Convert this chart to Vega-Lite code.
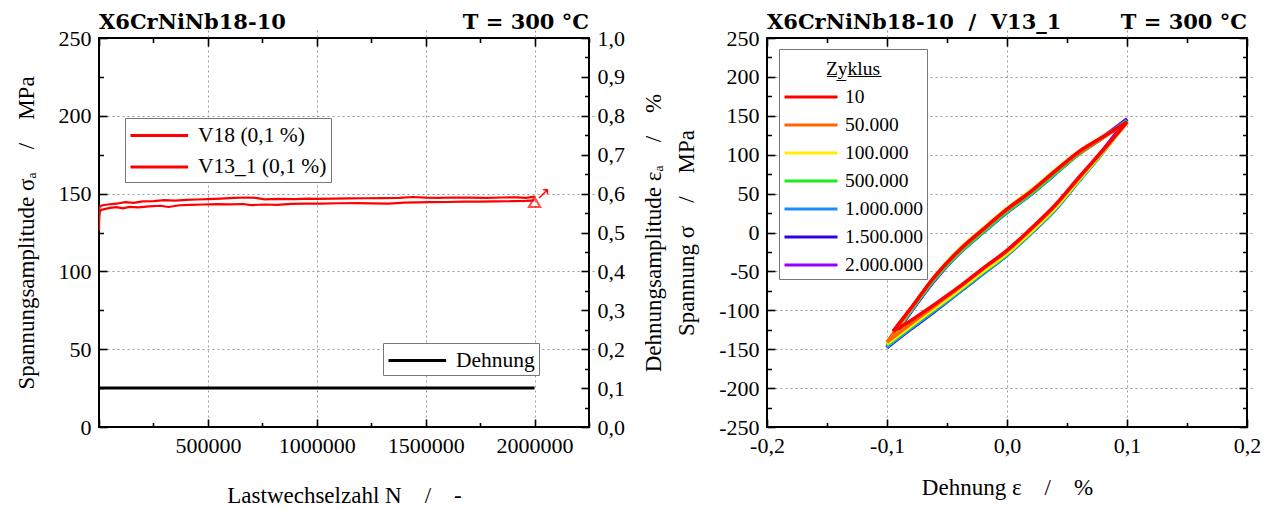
{
  "$schema": "https://vega.github.io/schema/vega-lite/v6.json",
  "background": "white",
  "padding": {"left": 14, "top": 11, "right": 0, "bottom": 0},
  "spacing": 7,
  "config": {
    "font": "Liberation Serif",
    "view": {"stroke": "black", "strokeWidth": 2},
    "axis": {
      "domain": false,
      "ticks": true,
      "offset": -8,
      "labelFont": "Liberation Serif",
      "labelFontSize": 22,
      "labelColor": "black",
      "labelFlush": false,
      "labelOverlap": false,
      "labelPadding": 8,
      "titleFont": "Liberation Serif",
      "titleFontSize": 23,
      "titleFontWeight": "normal",
      "titleColor": "black",
      "tickColor": "black",
      "tickWidth": 1.6,
      "tickSize": 8,
      "gridColor": "#999999",
      "gridDash": [2, 3],
      "gridWidth": 1
    },
    "legend": {
      "labelFont": "Liberation Serif",
      "labelColor": "black",
      "titleFont": "Liberation Serif",
      "titleColor": "black",
      "strokeColor": "#777777",
      "fillColor": "white",
      "symbolStrokeWidth": 3
    }
  },
  "resolve": {"scale": {"color": "independent", "stroke": "independent"}},
  "datasets": {
    "amp": [
      {"probe": "V18 (0,1 %)", "N": 0, "s": 139},
      {"probe": "V18 (0,1 %)", "N": 3000, "s": 141.5},
      {"probe": "V18 (0,1 %)", "N": 15000, "s": 142.5},
      {"probe": "V18 (0,1 %)", "N": 40000, "s": 143},
      {"probe": "V18 (0,1 %)", "N": 80000, "s": 143.5},
      {"probe": "V18 (0,1 %)", "N": 120000, "s": 144.5},
      {"probe": "V18 (0,1 %)", "N": 160000, "s": 144},
      {"probe": "V18 (0,1 %)", "N": 200000, "s": 145},
      {"probe": "V18 (0,1 %)", "N": 250000, "s": 145.2},
      {"probe": "V18 (0,1 %)", "N": 300000, "s": 145.8},
      {"probe": "V18 (0,1 %)", "N": 350000, "s": 145.5},
      {"probe": "V18 (0,1 %)", "N": 400000, "s": 146},
      {"probe": "V18 (0,1 %)", "N": 450000, "s": 146.2},
      {"probe": "V18 (0,1 %)", "N": 500000, "s": 146.5},
      {"probe": "V18 (0,1 %)", "N": 560000, "s": 146.8},
      {"probe": "V18 (0,1 %)", "N": 620000, "s": 147.2},
      {"probe": "V18 (0,1 %)", "N": 680000, "s": 147.5},
      {"probe": "V18 (0,1 %)", "N": 720000, "s": 147.2},
      {"probe": "V18 (0,1 %)", "N": 760000, "s": 146.3},
      {"probe": "V18 (0,1 %)", "N": 820000, "s": 146.6},
      {"probe": "V18 (0,1 %)", "N": 900000, "s": 146.5},
      {"probe": "V18 (0,1 %)", "N": 960000, "s": 146.8},
      {"probe": "V18 (0,1 %)", "N": 1000000, "s": 146.6},
      {"probe": "V18 (0,1 %)", "N": 1080000, "s": 146.8},
      {"probe": "V18 (0,1 %)", "N": 1150000, "s": 146.9},
      {"probe": "V18 (0,1 %)", "N": 1220000, "s": 147},
      {"probe": "V18 (0,1 %)", "N": 1300000, "s": 147.1},
      {"probe": "V18 (0,1 %)", "N": 1380000, "s": 147.3},
      {"probe": "V18 (0,1 %)", "N": 1440000, "s": 147.8},
      {"probe": "V18 (0,1 %)", "N": 1500000, "s": 147.4},
      {"probe": "V18 (0,1 %)", "N": 1560000, "s": 147.2},
      {"probe": "V18 (0,1 %)", "N": 1620000, "s": 147.5},
      {"probe": "V18 (0,1 %)", "N": 1700000, "s": 147.4},
      {"probe": "V18 (0,1 %)", "N": 1780000, "s": 147.2},
      {"probe": "V18 (0,1 %)", "N": 1850000, "s": 147.5},
      {"probe": "V18 (0,1 %)", "N": 1920000, "s": 147.6},
      {"probe": "V18 (0,1 %)", "N": 1960000, "s": 147.3},
      {"probe": "V18 (0,1 %)", "N": 2000000, "s": 148},
      {"probe": "V13_1 (0,1 %)", "N": 0, "s": 126},
      {"probe": "V13_1 (0,1 %)", "N": 1000, "s": 134},
      {"probe": "V13_1 (0,1 %)", "N": 4000, "s": 138.5},
      {"probe": "V13_1 (0,1 %)", "N": 10000, "s": 139.5},
      {"probe": "V13_1 (0,1 %)", "N": 25000, "s": 140},
      {"probe": "V13_1 (0,1 %)", "N": 50000, "s": 140.8},
      {"probe": "V13_1 (0,1 %)", "N": 80000, "s": 141.3},
      {"probe": "V13_1 (0,1 %)", "N": 110000, "s": 140.5},
      {"probe": "V13_1 (0,1 %)", "N": 140000, "s": 141.5},
      {"probe": "V13_1 (0,1 %)", "N": 180000, "s": 141.2},
      {"probe": "V13_1 (0,1 %)", "N": 230000, "s": 141.8},
      {"probe": "V13_1 (0,1 %)", "N": 280000, "s": 142.2},
      {"probe": "V13_1 (0,1 %)", "N": 320000, "s": 141.4},
      {"probe": "V13_1 (0,1 %)", "N": 370000, "s": 142.5},
      {"probe": "V13_1 (0,1 %)", "N": 420000, "s": 142.8},
      {"probe": "V13_1 (0,1 %)", "N": 480000, "s": 143},
      {"probe": "V13_1 (0,1 %)", "N": 540000, "s": 143.2},
      {"probe": "V13_1 (0,1 %)", "N": 600000, "s": 143.1},
      {"probe": "V13_1 (0,1 %)", "N": 660000, "s": 143.3},
      {"probe": "V13_1 (0,1 %)", "N": 700000, "s": 142.6},
      {"probe": "V13_1 (0,1 %)", "N": 760000, "s": 143},
      {"probe": "V13_1 (0,1 %)", "N": 820000, "s": 142.8},
      {"probe": "V13_1 (0,1 %)", "N": 880000, "s": 143.4},
      {"probe": "V13_1 (0,1 %)", "N": 950000, "s": 143.6},
      {"probe": "V13_1 (0,1 %)", "N": 1020000, "s": 143.5},
      {"probe": "V13_1 (0,1 %)", "N": 1100000, "s": 143.8},
      {"probe": "V13_1 (0,1 %)", "N": 1180000, "s": 143.9},
      {"probe": "V13_1 (0,1 %)", "N": 1250000, "s": 143.7},
      {"probe": "V13_1 (0,1 %)", "N": 1330000, "s": 143.6},
      {"probe": "V13_1 (0,1 %)", "N": 1400000, "s": 144.2},
      {"probe": "V13_1 (0,1 %)", "N": 1460000, "s": 144.4},
      {"probe": "V13_1 (0,1 %)", "N": 1520000, "s": 144.5},
      {"probe": "V13_1 (0,1 %)", "N": 1600000, "s": 144.6},
      {"probe": "V13_1 (0,1 %)", "N": 1680000, "s": 144.9},
      {"probe": "V13_1 (0,1 %)", "N": 1750000, "s": 144.8},
      {"probe": "V13_1 (0,1 %)", "N": 1820000, "s": 145},
      {"probe": "V13_1 (0,1 %)", "N": 1900000, "s": 145.1},
      {"probe": "V13_1 (0,1 %)", "N": 1960000, "s": 145.3},
      {"probe": "V13_1 (0,1 %)", "N": 2000000, "s": 145.6}
    ],
    "strain": [
      {"lbl": "Dehnung", "N": 0, "e": 0.1},
      {"lbl": "Dehnung", "N": 2000000, "e": 0.1}
    ],
    "marker": [
      {"N": 2000000, "s": 144.5}
    ],
    "arrow": [
      {"N": 2040000, "s": 149.5, "sym": "↗"}
    ],
    "loops": [
      {"z": "2.000.000", "b": "u", "i": 0, "e": 0.1, "s": 146},
      {"z": "2.000.000", "b": "u", "i": 1, "e": 0.08, "s": 123},
      {"z": "2.000.000", "b": "u", "i": 2, "e": 0.06, "s": 102},
      {"z": "2.000.000", "b": "u", "i": 3, "e": 0.04, "s": 76},
      {"z": "2.000.000", "b": "u", "i": 4, "e": 0.02, "s": 50},
      {"z": "2.000.000", "b": "u", "i": 5, "e": 0, "s": 27},
      {"z": "2.000.000", "b": "u", "i": 6, "e": -0.02, "s": 1},
      {"z": "2.000.000", "b": "u", "i": 7, "e": -0.04, "s": -26},
      {"z": "2.000.000", "b": "u", "i": 8, "e": -0.06, "s": -60},
      {"z": "2.000.000", "b": "u", "i": 9, "e": -0.08, "s": -101},
      {"z": "2.000.000", "b": "u", "i": 10, "e": -0.1, "s": -147},
      {"z": "2.000.000", "b": "l", "i": 0, "e": -0.1, "s": -147},
      {"z": "2.000.000", "b": "l", "i": 1, "e": -0.08, "s": -123},
      {"z": "2.000.000", "b": "l", "i": 2, "e": -0.06, "s": -100},
      {"z": "2.000.000", "b": "l", "i": 3, "e": -0.04, "s": -76},
      {"z": "2.000.000", "b": "l", "i": 4, "e": -0.02, "s": -52},
      {"z": "2.000.000", "b": "l", "i": 5, "e": 0, "s": -28},
      {"z": "2.000.000", "b": "l", "i": 6, "e": 0.02, "s": 0},
      {"z": "2.000.000", "b": "l", "i": 7, "e": 0.04, "s": 30},
      {"z": "2.000.000", "b": "l", "i": 8, "e": 0.06, "s": 68},
      {"z": "2.000.000", "b": "l", "i": 9, "e": 0.08, "s": 106},
      {"z": "2.000.000", "b": "l", "i": 10, "e": 0.1, "s": 146},
      {"z": "1.500.000", "b": "u", "i": 0, "e": 0.1, "s": 145},
      {"z": "1.500.000", "b": "u", "i": 1, "e": 0.08, "s": 122},
      {"z": "1.500.000", "b": "u", "i": 2, "e": 0.06, "s": 101},
      {"z": "1.500.000", "b": "u", "i": 3, "e": 0.04, "s": 75},
      {"z": "1.500.000", "b": "u", "i": 4, "e": 0.02, "s": 49},
      {"z": "1.500.000", "b": "u", "i": 5, "e": 0, "s": 26},
      {"z": "1.500.000", "b": "u", "i": 6, "e": -0.02, "s": 0},
      {"z": "1.500.000", "b": "u", "i": 7, "e": -0.04, "s": -27},
      {"z": "1.500.000", "b": "u", "i": 8, "e": -0.06, "s": -61},
      {"z": "1.500.000", "b": "u", "i": 9, "e": -0.08, "s": -102},
      {"z": "1.500.000", "b": "u", "i": 10, "e": -0.1, "s": -148},
      {"z": "1.500.000", "b": "l", "i": 0, "e": -0.1, "s": -148},
      {"z": "1.500.000", "b": "l", "i": 1, "e": -0.08, "s": -124},
      {"z": "1.500.000", "b": "l", "i": 2, "e": -0.06, "s": -101},
      {"z": "1.500.000", "b": "l", "i": 3, "e": -0.04, "s": -77},
      {"z": "1.500.000", "b": "l", "i": 4, "e": -0.02, "s": -53},
      {"z": "1.500.000", "b": "l", "i": 5, "e": 0, "s": -29},
      {"z": "1.500.000", "b": "l", "i": 6, "e": 0.02, "s": -1},
      {"z": "1.500.000", "b": "l", "i": 7, "e": 0.04, "s": 29},
      {"z": "1.500.000", "b": "l", "i": 8, "e": 0.06, "s": 67},
      {"z": "1.500.000", "b": "l", "i": 9, "e": 0.08, "s": 104},
      {"z": "1.500.000", "b": "l", "i": 10, "e": 0.1, "s": 145},
      {"z": "1.000.000", "b": "u", "i": 0, "e": 0.1, "s": 144},
      {"z": "1.000.000", "b": "u", "i": 1, "e": 0.08, "s": 122},
      {"z": "1.000.000", "b": "u", "i": 2, "e": 0.06, "s": 101},
      {"z": "1.000.000", "b": "u", "i": 3, "e": 0.04, "s": 75},
      {"z": "1.000.000", "b": "u", "i": 4, "e": 0.02, "s": 49},
      {"z": "1.000.000", "b": "u", "i": 5, "e": 0, "s": 26},
      {"z": "1.000.000", "b": "u", "i": 6, "e": -0.02, "s": 0},
      {"z": "1.000.000", "b": "u", "i": 7, "e": -0.04, "s": -27},
      {"z": "1.000.000", "b": "u", "i": 8, "e": -0.06, "s": -60},
      {"z": "1.000.000", "b": "u", "i": 9, "e": -0.08, "s": -101},
      {"z": "1.000.000", "b": "u", "i": 10, "e": -0.1, "s": -147},
      {"z": "1.000.000", "b": "l", "i": 0, "e": -0.1, "s": -147},
      {"z": "1.000.000", "b": "l", "i": 1, "e": -0.08, "s": -123},
      {"z": "1.000.000", "b": "l", "i": 2, "e": -0.06, "s": -100},
      {"z": "1.000.000", "b": "l", "i": 3, "e": -0.04, "s": -77},
      {"z": "1.000.000", "b": "l", "i": 4, "e": -0.02, "s": -53},
      {"z": "1.000.000", "b": "l", "i": 5, "e": 0, "s": -29},
      {"z": "1.000.000", "b": "l", "i": 6, "e": 0.02, "s": -1},
      {"z": "1.000.000", "b": "l", "i": 7, "e": 0.04, "s": 29},
      {"z": "1.000.000", "b": "l", "i": 8, "e": 0.06, "s": 66},
      {"z": "1.000.000", "b": "l", "i": 9, "e": 0.08, "s": 103},
      {"z": "1.000.000", "b": "l", "i": 10, "e": 0.1, "s": 144},
      {"z": "500.000", "b": "u", "i": 0, "e": 0.1, "s": 143},
      {"z": "500.000", "b": "u", "i": 1, "e": 0.08, "s": 122},
      {"z": "500.000", "b": "u", "i": 2, "e": 0.06, "s": 101},
      {"z": "500.000", "b": "u", "i": 3, "e": 0.04, "s": 76},
      {"z": "500.000", "b": "u", "i": 4, "e": 0.02, "s": 50},
      {"z": "500.000", "b": "u", "i": 5, "e": 0, "s": 27},
      {"z": "500.000", "b": "u", "i": 6, "e": -0.02, "s": 1},
      {"z": "500.000", "b": "u", "i": 7, "e": -0.04, "s": -26},
      {"z": "500.000", "b": "u", "i": 8, "e": -0.06, "s": -59},
      {"z": "500.000", "b": "u", "i": 9, "e": -0.08, "s": -100},
      {"z": "500.000", "b": "u", "i": 10, "e": -0.1, "s": -145},
      {"z": "500.000", "b": "l", "i": 0, "e": -0.1, "s": -145},
      {"z": "500.000", "b": "l", "i": 1, "e": -0.08, "s": -121},
      {"z": "500.000", "b": "l", "i": 2, "e": -0.06, "s": -98},
      {"z": "500.000", "b": "l", "i": 3, "e": -0.04, "s": -75},
      {"z": "500.000", "b": "l", "i": 4, "e": -0.02, "s": -51},
      {"z": "500.000", "b": "l", "i": 5, "e": 0, "s": -28},
      {"z": "500.000", "b": "l", "i": 6, "e": 0.02, "s": 0},
      {"z": "500.000", "b": "l", "i": 7, "e": 0.04, "s": 30},
      {"z": "500.000", "b": "l", "i": 8, "e": 0.06, "s": 67},
      {"z": "500.000", "b": "l", "i": 9, "e": 0.08, "s": 103},
      {"z": "500.000", "b": "l", "i": 10, "e": 0.1, "s": 143},
      {"z": "100.000", "b": "u", "i": 0, "e": 0.1, "s": 141},
      {"z": "100.000", "b": "u", "i": 1, "e": 0.08, "s": 123},
      {"z": "100.000", "b": "u", "i": 2, "e": 0.06, "s": 104},
      {"z": "100.000", "b": "u", "i": 3, "e": 0.04, "s": 80},
      {"z": "100.000", "b": "u", "i": 4, "e": 0.02, "s": 54},
      {"z": "100.000", "b": "u", "i": 5, "e": 0, "s": 31},
      {"z": "100.000", "b": "u", "i": 6, "e": -0.02, "s": 5},
      {"z": "100.000", "b": "u", "i": 7, "e": -0.04, "s": -22},
      {"z": "100.000", "b": "u", "i": 8, "e": -0.06, "s": -56},
      {"z": "100.000", "b": "u", "i": 9, "e": -0.08, "s": -98},
      {"z": "100.000", "b": "u", "i": 10, "e": -0.1, "s": -143},
      {"z": "100.000", "b": "l", "i": 0, "e": -0.1, "s": -143},
      {"z": "100.000", "b": "l", "i": 1, "e": -0.08, "s": -120},
      {"z": "100.000", "b": "l", "i": 2, "e": -0.06, "s": -97},
      {"z": "100.000", "b": "l", "i": 3, "e": -0.04, "s": -74},
      {"z": "100.000", "b": "l", "i": 4, "e": -0.02, "s": -50},
      {"z": "100.000", "b": "l", "i": 5, "e": 0, "s": -27},
      {"z": "100.000", "b": "l", "i": 6, "e": 0.02, "s": 1},
      {"z": "100.000", "b": "l", "i": 7, "e": 0.04, "s": 31},
      {"z": "100.000", "b": "l", "i": 8, "e": 0.06, "s": 68},
      {"z": "100.000", "b": "l", "i": 9, "e": 0.08, "s": 104},
      {"z": "100.000", "b": "l", "i": 10, "e": 0.1, "s": 141},
      {"z": "50.000", "b": "u", "i": 0, "e": 0.1, "s": 142},
      {"z": "50.000", "b": "u", "i": 1, "e": 0.08, "s": 122},
      {"z": "50.000", "b": "u", "i": 2, "e": 0.06, "s": 102},
      {"z": "50.000", "b": "u", "i": 3, "e": 0.04, "s": 78},
      {"z": "50.000", "b": "u", "i": 4, "e": 0.02, "s": 52},
      {"z": "50.000", "b": "u", "i": 5, "e": 0, "s": 29},
      {"z": "50.000", "b": "u", "i": 6, "e": -0.02, "s": 3},
      {"z": "50.000", "b": "u", "i": 7, "e": -0.04, "s": -24},
      {"z": "50.000", "b": "u", "i": 8, "e": -0.06, "s": -57},
      {"z": "50.000", "b": "u", "i": 9, "e": -0.08, "s": -98},
      {"z": "50.000", "b": "u", "i": 10, "e": -0.1, "s": -141},
      {"z": "50.000", "b": "l", "i": 0, "e": -0.1, "s": -141},
      {"z": "50.000", "b": "l", "i": 1, "e": -0.08, "s": -117},
      {"z": "50.000", "b": "l", "i": 2, "e": -0.06, "s": -94},
      {"z": "50.000", "b": "l", "i": 3, "e": -0.04, "s": -71},
      {"z": "50.000", "b": "l", "i": 4, "e": -0.02, "s": -47},
      {"z": "50.000", "b": "l", "i": 5, "e": 0, "s": -24},
      {"z": "50.000", "b": "l", "i": 6, "e": 0.02, "s": 4},
      {"z": "50.000", "b": "l", "i": 7, "e": 0.04, "s": 34},
      {"z": "50.000", "b": "l", "i": 8, "e": 0.06, "s": 70},
      {"z": "50.000", "b": "l", "i": 9, "e": 0.08, "s": 105},
      {"z": "50.000", "b": "l", "i": 10, "e": 0.1, "s": 142},
      {"z": "10", "b": "u", "i": 0, "e": 0.1, "s": 142},
      {"z": "10", "b": "u", "i": 1, "e": 0.08, "s": 123},
      {"z": "10", "b": "u", "i": 2, "e": 0.06, "s": 104},
      {"z": "10", "b": "u", "i": 3, "e": 0.04, "s": 79},
      {"z": "10", "b": "u", "i": 4, "e": 0.02, "s": 53},
      {"z": "10", "b": "u", "i": 5, "e": 0, "s": 30},
      {"z": "10", "b": "u", "i": 6, "e": -0.02, "s": 4},
      {"z": "10", "b": "u", "i": 7, "e": -0.04, "s": -23},
      {"z": "10", "b": "u", "i": 8, "e": -0.06, "s": -56},
      {"z": "10", "b": "u", "i": 9, "e": -0.08, "s": -97},
      {"z": "10", "b": "u", "i": 10, "e": -0.095, "s": -127},
      {"z": "10", "b": "l", "i": 0, "e": -0.095, "s": -127},
      {"z": "10", "b": "l", "i": 1, "e": -0.08, "s": -113},
      {"z": "10", "b": "l", "i": 2, "e": -0.06, "s": -92},
      {"z": "10", "b": "l", "i": 3, "e": -0.04, "s": -70},
      {"z": "10", "b": "l", "i": 4, "e": -0.02, "s": -46},
      {"z": "10", "b": "l", "i": 5, "e": 0, "s": -23},
      {"z": "10", "b": "l", "i": 6, "e": 0.02, "s": 5},
      {"z": "10", "b": "l", "i": 7, "e": 0.04, "s": 35},
      {"z": "10", "b": "l", "i": 8, "e": 0.06, "s": 71},
      {"z": "10", "b": "l", "i": 9, "e": 0.08, "s": 106},
      {"z": "10", "b": "l", "i": 10, "e": 0.1, "s": 142}
    ]
  },
  "hconcat": [
    {
      "width": 490,
      "height": 389,
      "resolve": {"scale": {"y": "independent"}, "axis": {"x": "independent", "y": "independent"}},
      "layer": [
        {
          "data": {"name": "amp"},
          "mark": {"type": "line", "strokeWidth": 2.2, "clip": true},
          "encoding": {
            "x": {
              "field": "N", "type": "quantitative",
              "scale": {"domain": [0, 2250000], "nice": false, "zero": false},
              "axis": {
                "orient": "bottom",
                "title": "Lastwechselzahl N\u00a0\u00a0\u00a0\u00a0/\u00a0\u00a0\u00a0\u00a0-",
                "titlePadding": 28,
                "values": [0, 250000, 500000, 750000, 1000000, 1250000, 1500000, 1750000, 2000000, 2250000],
                "labelExpr": "datum.value > 0 && datum.value % 500000 === 0 ? format(datum.value, 'd') : ''",
                "grid": true,
                "gridOpacity": {"condition": {"test": "datum.value > 0 && datum.value % 500000 === 0", "value": 1}, "value": 0},
                "tickDash": {"condition": {"test": "datum.value % 500000 !== 0", "value": [0, 3.5, 4.5, 30]}, "value": [30, 0]}
              }
            },
            "y": {
              "field": "s", "type": "quantitative",
              "scale": {"domain": [0, 250], "nice": false, "zero": false},
              "axis": {
                "orient": "left",
                "title": "Spannungsamplitude σₐ\u00a0\u00a0\u00a0\u00a0/\u00a0\u00a0\u00a0\u00a0MPa",
                "titlePadding": 20,
                "values": [0, 25, 50, 75, 100, 125, 150, 175, 200, 225, 250],
                "labelExpr": "datum.value % 50 === 0 ? format(datum.value, 'd') : ''",
                "grid": true,
                "gridOpacity": {"condition": {"test": "datum.value > 0 && datum.value < 250 && datum.value % 50 === 0", "value": 1}, "value": 0},
                "tickDash": {"condition": {"test": "datum.value % 50 !== 0", "value": [0, 3.5, 4.5, 30]}, "value": [30, 0]}
              }
            },
            "color": {
              "field": "probe", "type": "nominal",
              "scale": {"domain": ["V18 (0,1 %)", "V13_1 (0,1 %)"], "range": ["#ff0000", "#ff0000"]},
              "legend": {
                "orient": "none", "legendX": 26, "legendY": 80,
                "title": null,
                "symbolType": "M-1,0H3.8", "symbolSize": 576,
                "labelFontSize": 21.5, "labelOffset": 42,
                "padding": 4, "rowPadding": 7.5
              }
            }
          }
        },
        {
          "data": {"name": "strain"},
          "mark": {"type": "line", "strokeWidth": 3},
          "encoding": {
            "x": {
              "field": "N", "type": "quantitative",
              "scale": {"domain": [0, 2250000], "nice": false, "zero": false},
              "axis": {
                "orient": "top", "title": null, "labels": false, "grid": false,
                "values": [0, 250000, 500000, 750000, 1000000, 1250000, 1500000, 1750000, 2000000, 2250000],
                "tickDash": {"condition": {"test": "datum.value % 500000 !== 0", "value": [0, 3.5, 4.5, 30]}, "value": [30, 0]}
              }
            },
            "y": {
              "field": "e", "type": "quantitative",
              "scale": {"domain": [0, 1], "nice": false, "zero": false},
              "axis": {
                "orient": "right",
                "title": "Dehnungsamplitude εₐ\u00a0\u00a0\u00a0\u00a0/\u00a0\u00a0\u00a0\u00a0%",
                "titleAngle": 270,
                "titleBaseline": "top",
                "titlePadding": 18,
                "grid": false,
                "values": [0, 0.05, 0.1, 0.15, 0.2, 0.25, 0.3, 0.35, 0.4, 0.45, 0.5, 0.55, 0.6, 0.65, 0.7, 0.75, 0.8, 0.85, 0.9, 0.95, 1],
                "labelExpr": "round(datum.value * 100) % 10 === 0 ? replace(format(datum.value, '.1f'), '.', ',') : ''",
                "tickDash": {"condition": {"test": "round(datum.value * 100) % 10 !== 0", "value": [0, 3.5, 4.5, 30]}, "value": [30, 0]}
              }
            },
            "stroke": {
              "field": "lbl", "type": "nominal",
              "scale": {"domain": ["Dehnung"], "range": ["black"]},
              "legend": {
                "orient": "none", "legendX": 284, "legendY": 305,
                "title": null,
                "symbolType": "M-1,0H3.8", "symbolSize": 576,
                "labelFontSize": 21.5, "labelOffset": 42,
                "padding": 4
              }
            }
          }
        },
        {
          "data": {"name": "marker"},
          "mark": {"type": "point", "shape": "triangle-up", "filled": false, "size": 130, "strokeWidth": 2, "color": "#ff0000"},
          "encoding": {
            "x": {"field": "N", "type": "quantitative", "axis": null},
            "y": {"field": "s", "type": "quantitative", "scale": {"domain": [0, 250], "nice": false, "zero": false}, "axis": null}
          }
        },
        {
          "data": {"name": "arrow"},
          "mark": {"type": "text", "font": "DejaVu Sans", "fontSize": 17, "color": "#ff0000", "align": "center", "baseline": "middle"},
          "encoding": {
            "x": {"field": "N", "type": "quantitative", "axis": null},
            "y": {"field": "s", "type": "quantitative", "scale": {"domain": [0, 250], "nice": false, "zero": false}, "axis": null},
            "text": {"field": "sym"}
          }
        },
        {
          "data": {"values": [{}]},
          "mark": {"type": "text", "font": "DejaVu Serif", "fontWeight": "bold", "fontSize": 21, "align": "left", "baseline": "alphabetic", "dy": -9, "color": "black"},
          "encoding": {
            "x": {"datum": 0, "type": "quantitative", "axis": null},
            "y": {"datum": 250, "type": "quantitative", "scale": {"domain": [0, 250], "nice": false, "zero": false}, "axis": null},
            "text": {"value": "X6CrNiNb18-10"}
          }
        },
        {
          "data": {"values": [{}]},
          "mark": {"type": "text", "font": "DejaVu Serif", "fontWeight": "bold", "fontSize": 21, "align": "right", "baseline": "alphabetic", "dy": -9, "color": "black"},
          "encoding": {
            "x": {"datum": 2250000, "type": "quantitative", "axis": null},
            "y": {"datum": 250, "type": "quantitative", "scale": {"domain": [0, 250], "nice": false, "zero": false}, "axis": null},
            "text": {"value": "T = 300 °C"}
          }
        }
      ]
    },
    {
      "width": 480,
      "height": 389,
      "resolve": {"axis": {"x": "independent", "y": "independent"}},
      "layer": [
        {
          "data": {"name": "loops"},
          "mark": {"type": "line", "strokeWidth": 3.5, "clip": true, "interpolate": "catmull-rom"},
          "encoding": {
            "x": {
              "field": "e", "type": "quantitative",
              "scale": {"domain": [-0.2, 0.2], "nice": false, "zero": false},
              "axis": {
                "orient": "bottom",
                "title": "Dehnung ε\u00a0\u00a0\u00a0\u00a0/\u00a0\u00a0\u00a0\u00a0%",
                "titlePadding": 20,
                "values": [-0.2, -0.15, -0.1, -0.05, 0, 0.05, 0.1, 0.15, 0.2],
                "labelExpr": "abs(round(datum.value * 100)) % 10 === 0 ? replace(replace(format(datum.value, '.1f'), '.', ','), '−', '-') : ''",
                "grid": true,
                "gridOpacity": {"condition": {"test": "abs(round(datum.value * 100)) % 10 === 0 && abs(datum.value) < 0.19", "value": 1}, "value": 0},
                "tickDash": {"condition": {"test": "abs(round(datum.value * 100)) % 10 !== 0", "value": [0, 3.5, 4.5, 30]}, "value": [30, 0]}
              }
            },
            "y": {
              "field": "s", "type": "quantitative",
              "scale": {"domain": [-250, 250], "nice": false, "zero": false},
              "axis": {
                "orient": "left",
                "title": "Spannung σ\u00a0\u00a0\u00a0\u00a0/\u00a0\u00a0\u00a0\u00a0MPa",
                "titlePadding": 20,
                "values": [-250, -225, -200, -175, -150, -125, -100, -75, -50, -25, 0, 25, 50, 75, 100, 125, 150, 175, 200, 225, 250],
                "labelExpr": "abs(datum.value) % 50 === 0 ? replace(format(datum.value, 'd'), '−', '-') : ''",
                "grid": true,
                "gridOpacity": {"condition": {"test": "abs(datum.value) % 50 === 0 && abs(datum.value) < 250", "value": 1}, "value": 0},
                "tickDash": {"condition": {"test": "abs(datum.value) % 50 !== 0", "value": [0, 3.5, 4.5, 30]}, "value": [30, 0]}
              }
            },
            "color": {
              "field": "z", "type": "nominal",
              "scale": {
                "domain": ["10", "50.000", "100.000", "500.000", "1.000.000", "1.500.000", "2.000.000"],
                "range": ["#ff0000", "#ff6600", "#ffee00", "#1aee1a", "#1e8cff", "#3300e6", "#9900ff"]
              },
              "legend": {
                "orient": "none", "legendX": 12, "legendY": 11,
                "title": "Z̲y̲k̲l̲u̲s̲",
                "titleFontSize": 19.5, "titleFontWeight": "normal",
                "titleAnchor": "middle", "titleAlign": "center",
                "titleBaseline": "line-top", "titleLineHeight": 32, "titlePadding": 13,
                "symbolType": "M-1,0H4.3", "symbolSize": 400,
                "labelFontSize": 19.5, "labelOffset": 39,
                "padding": 4, "rowPadding": 7
              }
            },
            "detail": {"field": "b", "type": "nominal"},
            "order": {"field": "i", "type": "quantitative"}
          }
        },
        {
          "data": {"values": [{}]},
          "mark": {"type": "text", "font": "DejaVu Serif", "fontWeight": "bold", "fontSize": 21, "align": "left", "baseline": "alphabetic", "dy": -9, "color": "black"},
          "encoding": {
            "x": {"datum": -0.2, "type": "quantitative", "axis": null},
            "y": {"datum": 250, "type": "quantitative", "axis": null},
            "text": {"value": "X6CrNiNb18-10\u00a0\u00a0/\u00a0\u00a0V13_1"}
          }
        },
        {
          "data": {"values": [{}]},
          "mark": {"type": "text", "font": "DejaVu Serif", "fontWeight": "bold", "fontSize": 21, "align": "right", "baseline": "alphabetic", "dy": -9, "color": "black"},
          "encoding": {
            "x": {
              "datum": 0.2, "type": "quantitative",
              "axis": {
                "orient": "top", "title": null, "labels": false, "grid": false,
                "values": [-0.2, -0.15, -0.1, -0.05, 0, 0.05, 0.1, 0.15, 0.2],
                "tickDash": {"condition": {"test": "abs(round(datum.value * 100)) % 10 !== 0", "value": [0, 3.5, 4.5, 30]}, "value": [30, 0]}
              }
            },
            "y": {
              "datum": 250, "type": "quantitative",
              "axis": {
                "orient": "right", "title": null, "labels": false, "grid": false,
                "values": [-250, -225, -200, -175, -150, -125, -100, -75, -50, -25, 0, 25, 50, 75, 100, 125, 150, 175, 200, 225, 250],
                "tickDash": {"condition": {"test": "abs(datum.value) % 50 !== 0", "value": [0, 3.5, 4.5, 30]}, "value": [30, 0]}
              }
            },
            "text": {"value": "T = 300 °C"}
          }
        }
      ]
    }
  ]
}
